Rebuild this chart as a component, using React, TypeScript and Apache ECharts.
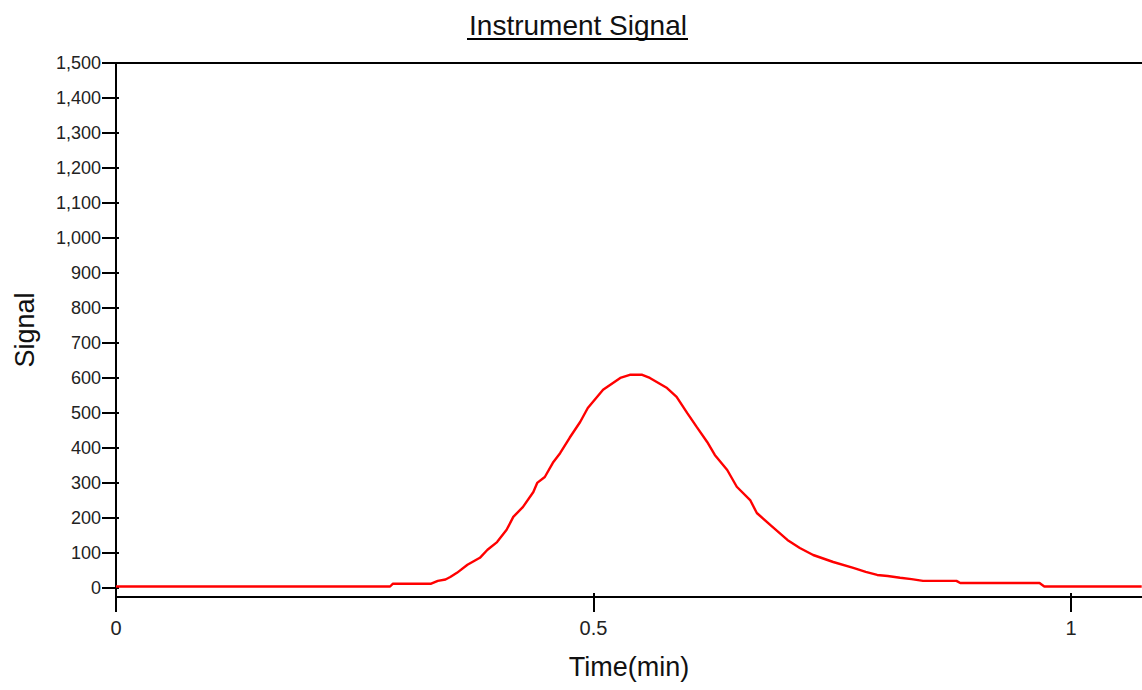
import React, { useEffect, useRef } from "react";
import * as echarts from "echarts";

const chartTitle = "Instrument Signal";
const xAxisName = "Time(min)";
const yAxisName = "Signal";

const timeValues: number[] = [
  0, 0.287, 0.29, 0.33, 0.337, 0.345, 0.35, 0.357, 0.368, 0.381, 0.389, 0.399,
  0.409, 0.416, 0.426, 0.437, 0.441, 0.449, 0.458, 0.465, 0.475, 0.486, 0.494,
  0.51, 0.528, 0.538, 0.551, 0.559, 0.577, 0.587, 0.598, 0.608, 0.619, 0.627,
  0.64, 0.65, 0.664, 0.671, 0.685, 0.703, 0.716, 0.73, 0.751, 0.772, 0.785, 0.797,
  0.808, 0.821, 0.833, 0.845, 0.88, 0.884, 0.967, 0.972, 1.074,
];
const signalValues: number[] = [
  4, 4, 12, 12, 20, 24, 31, 43, 66, 86, 109, 131,
  166, 203, 231, 274, 300, 317, 360, 385, 429, 474, 514,
  566, 600, 609, 609, 600, 571, 546, 500, 460, 417, 380,
  337, 289, 251, 214, 180, 137, 114, 94, 74, 57, 46, 37,
  34, 29, 25, 20, 20, 14, 14, 4, 4,
];

const yTickValues: number[] = [0, 100, 200, 300, 400, 500, 600, 700, 800, 900, 1000, 1100, 1200, 1300, 1400, 1500];
const xTickValues: number[] = [0, 0.5, 1];

const X_MIN = 0;
const X_MAX = 1.0743;
const Y_MIN = -26;
const Y_MAX = 1500;

export default function App() {
  const ref = useRef<HTMLDivElement>(null);

  useEffect(() => {
    if (!ref.current) return;
    const chart = echarts.init(ref.current, null, { renderer: "svg" });
    const font = "'Liberation Sans', Arial, sans-serif";
    const axisLineStyle = { color: "#000", width: 2 };
    const fmt = (v: number) => v.toLocaleString("en-US");

    chart.setOption({
      animation: false,
      backgroundColor: "#fff",
      grid: { left: 116, top: 63, right: 0, bottom: 93, containLabel: false },
      xAxis: [
        {
          type: "value",
          position: "bottom",
          min: X_MIN,
          max: X_MAX,
          interval: 0.5,
          name: xAxisName,
          nameLocation: "middle",
          nameGap: 56,
          nameTextStyle: { fontFamily: font, fontSize: 27, color: "#111" },
          axisLine: { show: true, onZero: false, lineStyle: axisLineStyle },
          axisTick: { show: true, inside: false, length: 15, lineStyle: axisLineStyle, customValues: xTickValues },
          axisLabel: {
            show: true,
            margin: 21,
            fontFamily: font,
            fontSize: 20,
            color: "#222",
            customValues: xTickValues,
            formatter: (v: number) => String(v),
          },
          splitLine: { show: false },
        },
        {
          type: "value",
          position: "bottom",
          min: X_MIN,
          max: X_MAX,
          interval: 0.5,
          axisLine: { show: false, onZero: false },
          axisTick: { show: true, inside: true, length: 4, lineStyle: axisLineStyle, customValues: xTickValues },
          axisLabel: { show: false },
          splitLine: { show: false },
        },
        {
          type: "value",
          position: "top",
          min: X_MIN,
          max: X_MAX,
          axisLine: { show: true, onZero: false, lineStyle: axisLineStyle },
          axisTick: { show: false },
          axisLabel: { show: false },
          splitLine: { show: false },
        },
      ],
      yAxis: [
        {
          type: "value",
          position: "left",
          min: Y_MIN,
          max: Y_MAX,
          name: yAxisName,
          nameLocation: "middle",
          nameGap: 78,
          nameRotate: 90,
          nameTextStyle: { fontFamily: font, fontSize: 27, color: "#111" },
          axisLine: { show: true, onZero: false, lineStyle: axisLineStyle },
          axisTick: { show: true, inside: false, length: 14, lineStyle: axisLineStyle, customValues: yTickValues },
          axisLabel: {
            show: true,
            margin: 15,
            fontFamily: font,
            fontSize: 18,
            color: "#222",
            customValues: yTickValues,
            formatter: (v: number) => fmt(v),
          },
          splitLine: { show: false },
        },
        {
          type: "value",
          position: "left",
          min: Y_MIN,
          max: Y_MAX,
          axisLine: { show: false, onZero: false },
          axisTick: { show: true, inside: true, length: 3, lineStyle: axisLineStyle, customValues: yTickValues },
          axisLabel: { show: false },
          splitLine: { show: false },
        },
      ],
      series: [
        {
          type: "line",
          xAxisIndex: 0,
          yAxisIndex: 0,
          data: timeValues.map((t, i) => [t, signalValues[i]]),
          showSymbol: false,
          symbol: "none",
          lineStyle: { color: "#ff0000", width: 2.4 },
          smooth: false,
          clip: true,
        },
      ],
      graphic: [
        {
          type: "text",
          x: 578,
          y: 25,
          style: {
            text: chartTitle,
            fontFamily: font,
            fontSize: 28,
            fill: "#111",
            textAlign: "center",
            textVerticalAlign: "middle",
          },
        },
        {
          type: "line",
          shape: { x1: 467, y1: 39, x2: 688, y2: 39 },
          style: { stroke: "#000", lineWidth: 2 },
        },
      ],
    });

    return () => chart.dispose();
  }, []);

  return (
    <div
      ref={ref}
      style={{ position: "fixed", left: 0, top: 0, width: 1142, height: 690, background: "#fff" }}
    />
  );
}
